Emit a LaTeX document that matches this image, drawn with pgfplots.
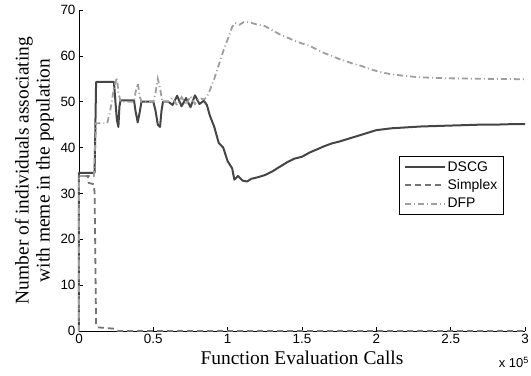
\documentclass[border=0pt]{standalone}
\usepackage{fontspec}
\setmainfont{Liberation Sans}
\newfontfamily\serifface{Liberation Serif}
\usepackage{pgfplots}
\pgfplotsset{compat=1.18}

\definecolor{dscgcol}{gray}{0.27}
\definecolor{simplexcol}{gray}{0.45}
\definecolor{dfpcol}{gray}{0.62}

\begin{document}
\begin{tikzpicture}
\begin{axis}[
  scale only axis,
  width=446bp, height=321bp,
  xmin=0, xmax=3, ymin=0, ymax=70,
  axis lines*=left,
  axis line style={line width=0.6bp},
  tick align=inside,
  major tick length=4bp,
  tick style={line width=0.6bp, black},
  xtick={0,0.5,1,1.5,2,2.5,3},
  xticklabels={0,0.5,1,1.5,2,2.5,3},
  ytick={0,10,20,30,40,50,60,70},
  ticklabel style={font=\fontsize{13.5}{15}\selectfont},
  /pgf/number format/assume math mode=true,
  xlabel={Function Evaluation Calls},
  ylabel={Number of individuals associating\\ with meme in the population},
  label style={font=\serifface\fontsize{19.5}{21}\selectfont},
  ylabel style={align=center, yshift=0bp},
  xlabel style={yshift=0bp},
  legend style={at={(0.953,0.545)}, anchor=north east,
    font=\fontsize{14}{16}\selectfont, draw=black, line width=0.6bp,
    inner xsep=5bp, inner ysep=3.5bp, row sep=4bp,
    nodes={inner sep=1.5bp}},
  legend cell align=left,
  legend image code/.code={\draw[#1] (0bp,0bp) -- (40bp,0bp);},
  clip=false,
]
% DSCG
\addplot[dscgcol, line width=2bp, line join=round] coordinates {
(0,0) (0,34.5) (0.105,34.5) (0.115,54.3) (0.235,54.3) (0.245,50) (0.255,46) (0.265,44.5)
(0.272,49) (0.28,50.3) (0.37,50.3) (0.38,48) (0.395,45.5) (0.41,48) (0.42,50) (0.50,50)
(0.515,48) (0.53,45) (0.545,44.5) (0.555,48) (0.565,50) (0.6,50) (0.63,49.3) (0.66,51.3)
(0.69,49) (0.72,50.8) (0.75,48.8) (0.78,51.4) (0.81,49.5) (0.84,50.2) (0.86,49.3)
(0.88,47) (0.91,44.5) (0.94,41) (0.97,40) (1.0,37) (1.03,35.5) (1.045,33) (1.07,33.8)
(1.10,32.8) (1.13,32.6) (1.16,33.2) (1.2,33.5) (1.25,34) (1.3,34.8) (1.35,35.8)
(1.4,36.8) (1.45,37.6) (1.5,38) (1.55,38.9) (1.6,39.6) (1.65,40.3) (1.7,40.9)
(1.75,41.3) (1.8,41.8) (1.85,42.3) (1.9,42.8) (1.95,43.3) (2.0,43.8) (2.05,44.0)
(2.1,44.2) (2.2,44.4) (2.3,44.6) (2.4,44.7) (2.5,44.8) (2.6,44.9) (2.7,45.0)
(2.8,45.0) (2.9,45.1) (3.0,45.1)
};
\addlegendentry{DSCG}
% Simplex
\addplot[simplexcol, line width=1.8bp, dash pattern=on 6bp off 4bp] coordinates {
(0,0) (0,33.8) (0.06,33.8) (0.065,32.3) (0.10,32) (0.105,30) (0.115,1.5) (0.125,0.8)
(0.2,0.6) (0.24,0.5) (0.26,0) (3.0,0)
};
\addlegendentry{Simplex}
% DFP
\addplot[dfpcol, line width=1.8bp, dash pattern=on 6bp off 3bp on 1bp off 3bp] coordinates {
(0,0) (0,33.8) (0.10,33.8) (0.115,45.3) (0.19,45.3) (0.21,48) (0.235,53) (0.255,55.3)
(0.265,52) (0.28,50) (0.37,50) (0.38,52) (0.395,54) (0.41,51) (0.42,50) (0.50,50)
(0.515,52) (0.53,55) (0.545,53) (0.56,50) (0.6,50) (0.63,50.8) (0.66,49.2) (0.69,51)
(0.72,49.3) (0.75,51.2) (0.78,49.5) (0.81,50.8) (0.84,50.5) (0.86,51) (0.88,52.5)
(0.91,55) (0.94,58) (0.97,61) (1.0,63.6) (1.03,66.3) (1.05,67.2) (1.08,66.8)
(1.11,67.4) (1.15,67.3) (1.2,66.8) (1.25,66.5) (1.3,65.6) (1.35,64.7) (1.4,64)
(1.45,63.3) (1.5,62.7) (1.55,62.2) (1.6,61.4) (1.65,60.6) (1.7,60) (1.75,59.3)
(1.8,58.8) (1.85,58.2) (1.9,57.8) (1.95,57.2) (2.0,56.7) (2.05,56.3) (2.1,56)
(2.2,55.6) (2.3,55.3) (2.4,55.2) (2.5,55.1) (2.7,55) (3.0,54.9)
};
\addlegendentry{DFP}
\node[anchor=north east, inner sep=0pt, font=\fontsize{13}{15}\selectfont]
  at ([yshift=-26bp,xshift=4bp]rel axis cs:1,0) {x 10\textsuperscript{5}};
\end{axis}
\pgfresetboundingbox
\path (-79bp,-45bp) rectangle (452bp,331bp);
\end{tikzpicture}
\end{document}
